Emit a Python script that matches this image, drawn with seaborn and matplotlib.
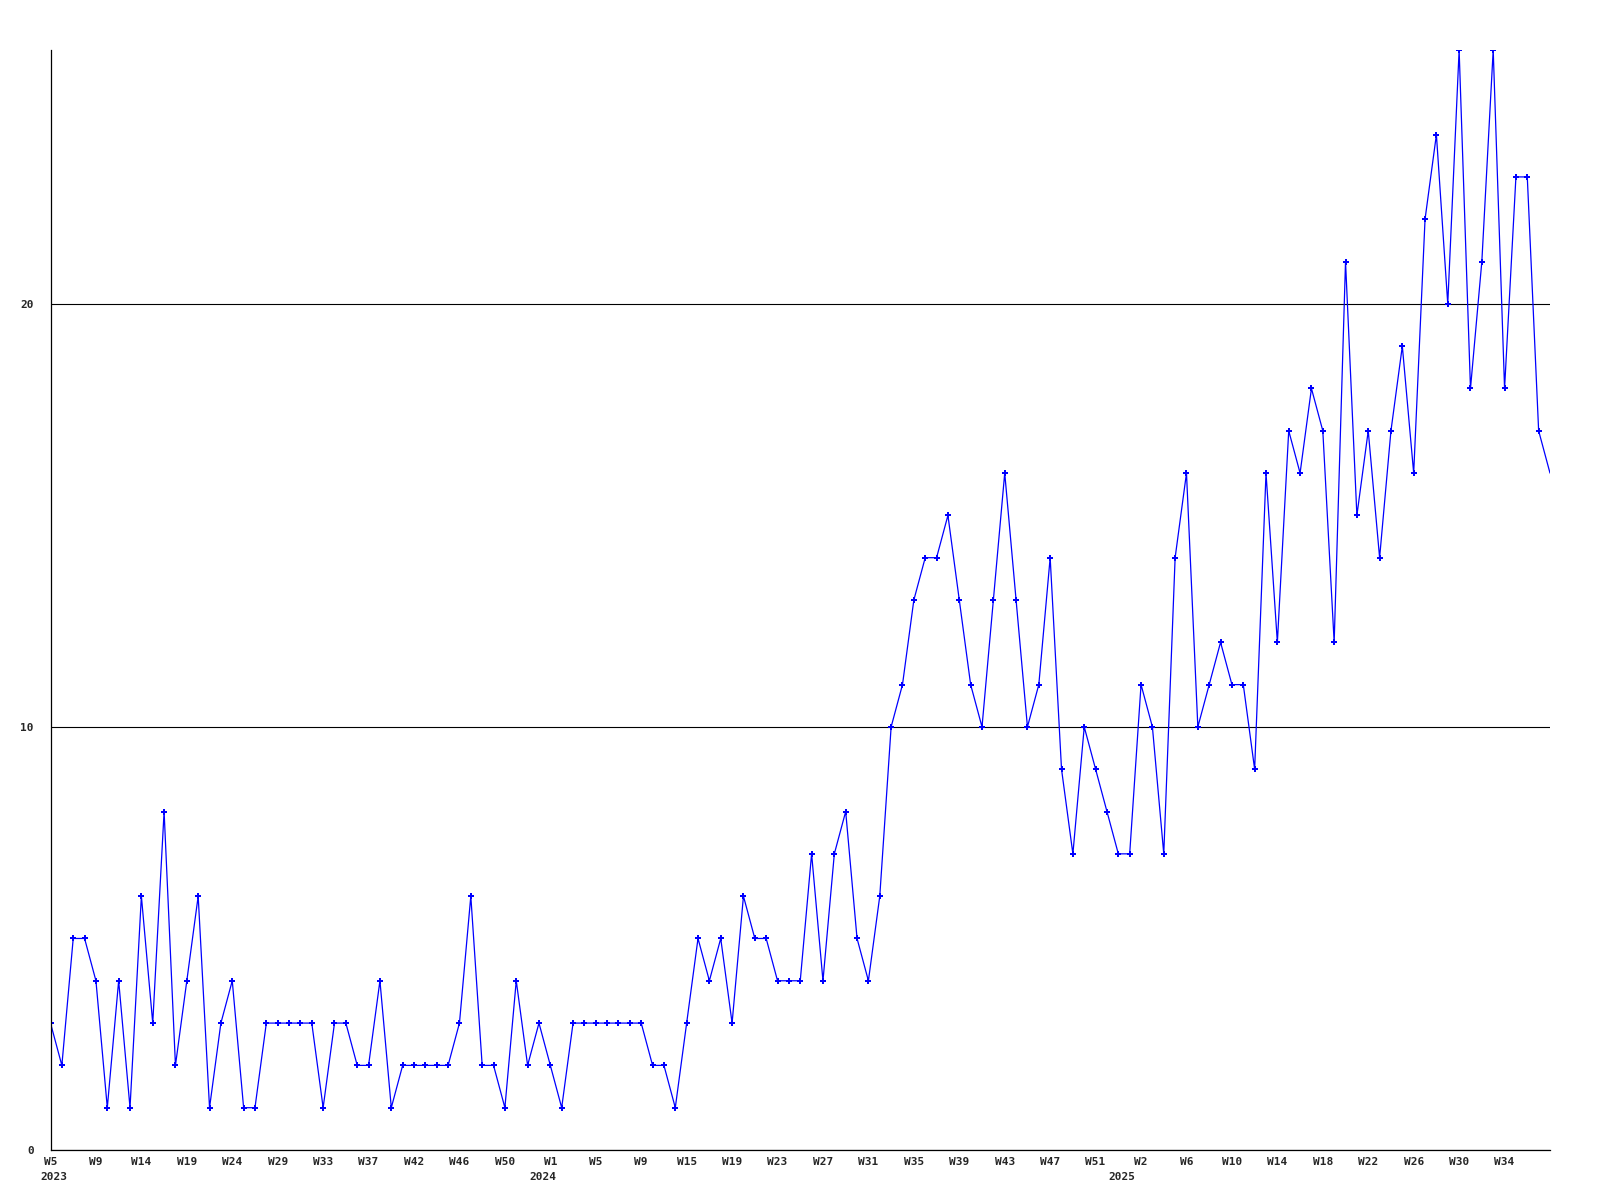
import matplotlib
matplotlib.use("Agg")
import matplotlib.pyplot as plt
import pandas as pd
import seaborn as sns

# weekly counts, 2023 W5 .. 2025 W37 (last point sits on the right edge)
COUNTS = [
    3, 2, 5, 5, 4, 1, 4, 1, 6, 3, 8, 2, 4, 6, 1, 3, 4, 1, 1, 3,
    3, 3, 3, 3, 1, 3, 3, 2, 2, 4, 1, 2, 2, 2, 2, 2, 3, 6, 2, 2,
    1, 4, 2, 3, 2, 1, 3, 3, 3, 3, 3, 3, 3, 2, 2, 1, 3, 5, 4, 5,
    3, 6, 5, 5, 4, 4, 4, 7, 4, 7, 8, 5, 4, 6, 10, 11, 13, 14, 14, 15,
    13, 11, 10, 13, 16, 13, 10, 11, 14, 9, 7, 10, 9, 8, 7, 7, 11, 10, 7, 14,
    16, 10, 11, 12, 11, 11, 9, 16, 12, 17, 16, 18, 17, 12, 21, 15, 17, 14, 17, 19,
    16, 22, 24, 20, 26, 18, 21, 26, 18, 23, 23, 17, 16,
]

WEEK_LABELS = [
    "W5", "W9", "W14", "W19", "W24", "W29", "W33", "W37", "W42", "W46", "W50",
    "W1", "W5", "W9", "W15", "W19", "W23", "W27", "W31", "W35", "W39", "W43", "W47", "W51",
    "W2", "W6", "W10", "W14", "W18", "W22", "W26", "W30", "W34",
]
YEAR_LABELS = ["2023", "2024", "2025"]
YEAR_FIRST_POINT = [0, 43, 94]
Y_TICKS = [0, 10, 20]

W, H = 1600, 1200
FONT = ["DejaVu Sans Mono"]

sns.set_style("white")
plt.rcParams["font.family"] = FONT

df = pd.DataFrame({"point": range(len(COUNTS)), "count": COUNTS})

fig = plt.figure(figsize=(W / 100, H / 100), dpi=100)
ax = fig.add_axes([50.5 / W, 50 / H, 1499.5 / W, 1100 / H])

sns.lineplot(
    data=df, x="point", y="count", ax=ax,
    color="#0000ff", linewidth=0.9,
    marker="P", markersize=4.5, markeredgewidth=0,
    markevery=list(range(len(COUNTS) - 1)),
)

ax.set_xlim(0, len(COUNTS) - 1)
ax.set_ylim(0, 26)

ax.set_xticks(range(0, 4 * len(WEEK_LABELS), 4))
ax.set_xticklabels(WEEK_LABELS, fontsize=8, fontweight="bold")
ax.set_yticks(Y_TICKS)
ax.set_yticklabels([str(v) for v in Y_TICKS], fontsize=8, fontweight="bold")
ax.tick_params(axis="x", length=0, pad=5)
ax.tick_params(axis="y", length=0, pad=12)

for year, first in zip(YEAR_LABELS, YEAR_FIRST_POINT):
    ax.text(first + 0.3, -27 / 1100, year, transform=ax.get_xaxis_transform(),
            ha="center", va="center", fontsize=8, fontweight="bold")

ax.grid(axis="y", color="black", linewidth=0.8)
ax.grid(axis="x", visible=False)
for side in ("top", "right"):
    ax.spines[side].set_visible(False)
for side in ("left", "bottom"):
    ax.spines[side].set_color("black")
    ax.spines[side].set_linewidth(0.9)

ax.set_xlabel("")
ax.set_ylabel("")

fig.savefig("out.png", dpi=100)
